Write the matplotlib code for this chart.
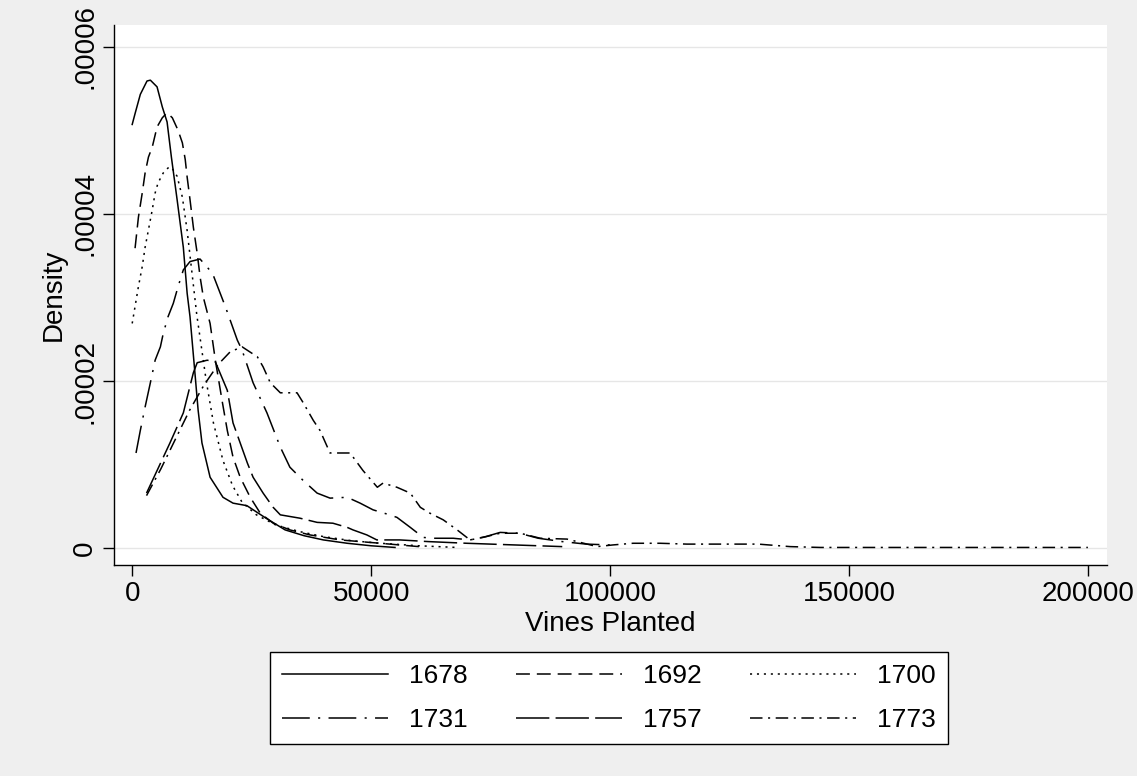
import matplotlib.pyplot as plt

plt.rcParams['font.family'] = ['Liberation Sans', 'DejaVu Sans']
plt.rcParams['lines.scale_dashes'] = False

# kernel density estimates: (vines planted, density)
x_1678 = [0, 600, 1700, 3100, 3800, 5200, 6300, 7300, 8200, 9400, 10700, 11500,
          12100, 13200, 13800, 14600, 16300, 19000, 21100, 24000, 28000, 32000,
          36000, 40000, 45000, 50000, 55000]
d_1678 = [5.07e-5, 5.2e-5, 5.43e-5, 5.59e-5, 5.6e-5, 5.52e-5, 5.28e-5, 5.1e-5,
          4.68e-5, 4.17e-5, 3.6e-5, 3.05e-5, 2.77e-5, 2.05e-5, 1.65e-5, 1.26e-5,
          8.5e-6, 6.1e-6, 5.4e-6, 5.1e-6, 3.6e-6, 2.2e-6, 1.5e-6, 1.0e-6, 6e-7,
          3e-7, 1e-7]

x_1692 = [600, 1300, 2100, 2700, 3400, 4200, 5200, 6300, 7300, 8400, 9600, 10500,
          11100, 11500, 12100, 12800, 13600, 14200, 14900, 16300, 17400, 18800,
          19900, 21100, 22600, 24700, 26800, 29500, 33000, 37200, 43500, 51900,
          60000]
d_1692 = [3.59e-5, 3.96e-5, 4.25e-5, 4.49e-5, 4.68e-5, 4.8e-5, 5.04e-5, 5.15e-5,
          5.21e-5, 5.15e-5, 5.0e-5, 4.85e-5, 4.65e-5, 4.44e-5, 4.17e-5, 3.84e-5,
          3.53e-5, 3.25e-5, 3.0e-5, 2.69e-5, 2.25e-5, 1.77e-5, 1.41e-5, 1.09e-5,
          8.5e-6, 6.1e-6, 4.2e-6, 3.0e-6, 2.2e-6, 1.6e-6, 1.0e-6, 6e-7, 2e-7]

x_1700 = [0, 1300, 2100, 2700, 3400, 4200, 4800, 5400, 6500, 7500, 8200, 9400,
          10500, 11500, 12500, 13500, 14500, 15500, 17000, 19000, 21000, 23000,
          26000, 30000, 35000, 40000, 46000, 52000, 60000, 68000]
d_1700 = [2.69e-5, 3.13e-5, 3.37e-5, 3.6e-5, 3.81e-5, 4.05e-5, 4.25e-5, 4.37e-5,
          4.49e-5, 4.55e-5, 4.56e-5, 4.45e-5, 4.2e-5, 3.8e-5, 3.3e-5, 2.8e-5,
          2.4e-5, 2.0e-5, 1.5e-5, 1.05e-5, 7.5e-6, 5.5e-6, 4.0e-6, 2.8e-6, 2.0e-6,
          1.4e-6, 9e-7, 6e-7, 3e-7, 1e-7]

x_1731 = [800, 1700, 2700, 3800, 4800, 5900, 6500, 7500, 8600, 9600, 10700, 12100,
          14200, 16800, 19500, 22000, 23000, 25300, 28200, 31000, 33000, 35800,
          38700, 41400, 45000, 47700, 50400, 53300, 55400, 58200, 60900, 63000,
          67200, 70700, 74000, 77000, 81000, 85000, 90000, 95000, 100000]
d_1731 = [1.14e-5, 1.41e-5, 1.69e-5, 1.98e-5, 2.25e-5, 2.41e-5, 2.57e-5, 2.77e-5,
          2.93e-5, 3.13e-5, 3.33e-5, 3.43e-5, 3.46e-5, 3.29e-5, 2.89e-5, 2.49e-5,
          2.37e-5, 1.98e-5, 1.62e-5, 1.21e-5, 9.7e-6, 8.1e-6, 6.6e-6, 6.0e-6,
          6.1e-6, 5.4e-6, 4.6e-6, 4.1e-6, 3.7e-6, 2.5e-6, 1.3e-6, 1.2e-6, 1.2e-6,
          1.0e-6, 1.4e-6, 1.9e-6, 1.8e-6, 1.2e-6, 8e-7, 5e-7, 4e-7]

x_1757 = [3000, 7900, 10700, 12800, 13600, 15700, 17400, 19900, 21100, 22600,
          24100, 25300, 27400, 29500, 31000, 35100, 38700, 42000, 45000, 46200,
          49100, 51200, 56000, 62000, 70000, 80000, 90000]
d_1757 = [6.6e-6, 1.26e-5, 1.62e-5, 2.1e-5, 2.22e-5, 2.25e-5, 2.23e-5, 1.89e-5,
          1.5e-5, 1.26e-5, 1.02e-5, 8.5e-6, 6.6e-6, 4.9e-6, 4.0e-6, 3.6e-6, 3.1e-6,
          3.0e-6, 2.5e-6, 2.2e-6, 1.6e-6, 1.0e-6, 1.0e-6, 8e-7, 6e-7, 4e-7, 2e-7]

x_1773 = [3000, 6000, 9000, 12000, 15000, 18000, 20500, 23000, 26200, 27400,
          28900, 31000, 34500, 35800, 37900, 39300, 41400, 45600, 48300, 51300,
          52500, 55400, 58200, 60300, 62300, 65100, 68000, 70700, 73400, 77000,
          81200, 85400, 91000, 97300, 100600, 104800, 110500, 116100, 125000,
          131000, 137700, 144000, 160000, 180000, 200000]
d_1773 = [6.3e-6, 9.5e-6, 1.3e-5, 1.65e-5, 1.95e-5, 2.2e-5, 2.35e-5, 2.41e-5,
          2.29e-5, 2.17e-5, 1.98e-5, 1.86e-5, 1.86e-5, 1.74e-5, 1.53e-5, 1.41e-5,
          1.14e-5, 1.14e-5, 9.3e-6, 7.3e-6, 7.8e-6, 7.3e-6, 6.6e-6, 4.9e-6, 4.2e-6,
          3.4e-6, 2.2e-6, 1.0e-6, 1.3e-6, 1.8e-6, 1.8e-6, 1.2e-6, 1.1e-6, 2e-7,
          4e-7, 6e-7, 6e-7, 5e-7, 5e-7, 5e-7, 2e-7, 1e-7, 1e-7, 1e-7, 1e-7]

series = [
    ('1678', x_1678, d_1678, (None, None)),
    ('1692', x_1692, d_1692, (0, (10, 5))),
    ('1700', x_1700, d_1700, (0, (1.5, 3.5))),
    ('1731', x_1731, d_1731, (0, (20, 6, 1.5, 6))),
    ('1757', x_1757, d_1757, (0, (24, 4.5))),
    ('1773', x_1773, d_1773, (0, (9, 4, 1.5, 4))),
]

y_ticks = [0, 0.00002, 0.00004, 0.00006]
y_labels = ['0', '.00002', '.00004', '.00006']
x_ticks = [0, 50000, 100000, 150000, 200000]

fig = plt.figure(figsize=(11.37, 7.76), dpi=100, facecolor='#efefef')
ax = fig.add_axes([0.1003, 0.2719, 0.8733, 0.6959])
ax.set_facecolor('white')

lines = []
for label, xs, ds, style in series:
    if style[0] is None:
        ln, = ax.plot(xs, ds, color='black', lw=1.1, label=label)
    else:
        ln, = ax.plot(xs, ds, color='black', lw=1.1, linestyle=style, label=label)
    lines.append(ln)

ax.set_xlim(-3800, 204000)
ax.set_ylim(-0.000002, 0.0000626)
ax.set_yticks(y_ticks)
ax.set_yticklabels(y_labels, rotation=90, va='center')
ax.set_xticks(x_ticks)
ax.set_xticklabels([str(t) for t in x_ticks])
ax.grid(axis='y', color='#e6e6e6', lw=1)
ax.set_axisbelow(True)
ax.tick_params(labelsize=20, length=8, width=1, colors='black')
for side in ['top', 'right']:
    ax.spines[side].set_visible(False)
for side in ['left', 'bottom']:
    ax.spines[side].set_linewidth(1)

ax.set_xlabel('Vines Planted', fontsize=20, labelpad=3)
ax.set_ylabel('Density', fontsize=20, labelpad=4)

# legend filled row by row, as in the original (matplotlib fills by column)
order = [0, 3, 1, 4, 2, 5]
leg = fig.legend([lines[i] for i in order], [series[i][0] for i in order],
                 loc='center', bbox_to_anchor=(609 / 1137, 0.1005), ncol=3,
                 fontsize=19, frameon=True, fancybox=False, edgecolor='black',
                 framealpha=1, handlelength=4.0, handletextpad=0.8,
                 columnspacing=1.85, borderpad=0.45, labelspacing=0.75)
leg.get_frame().set_linewidth(1)

fig.savefig('out.png', dpi=100, facecolor=fig.get_facecolor())
